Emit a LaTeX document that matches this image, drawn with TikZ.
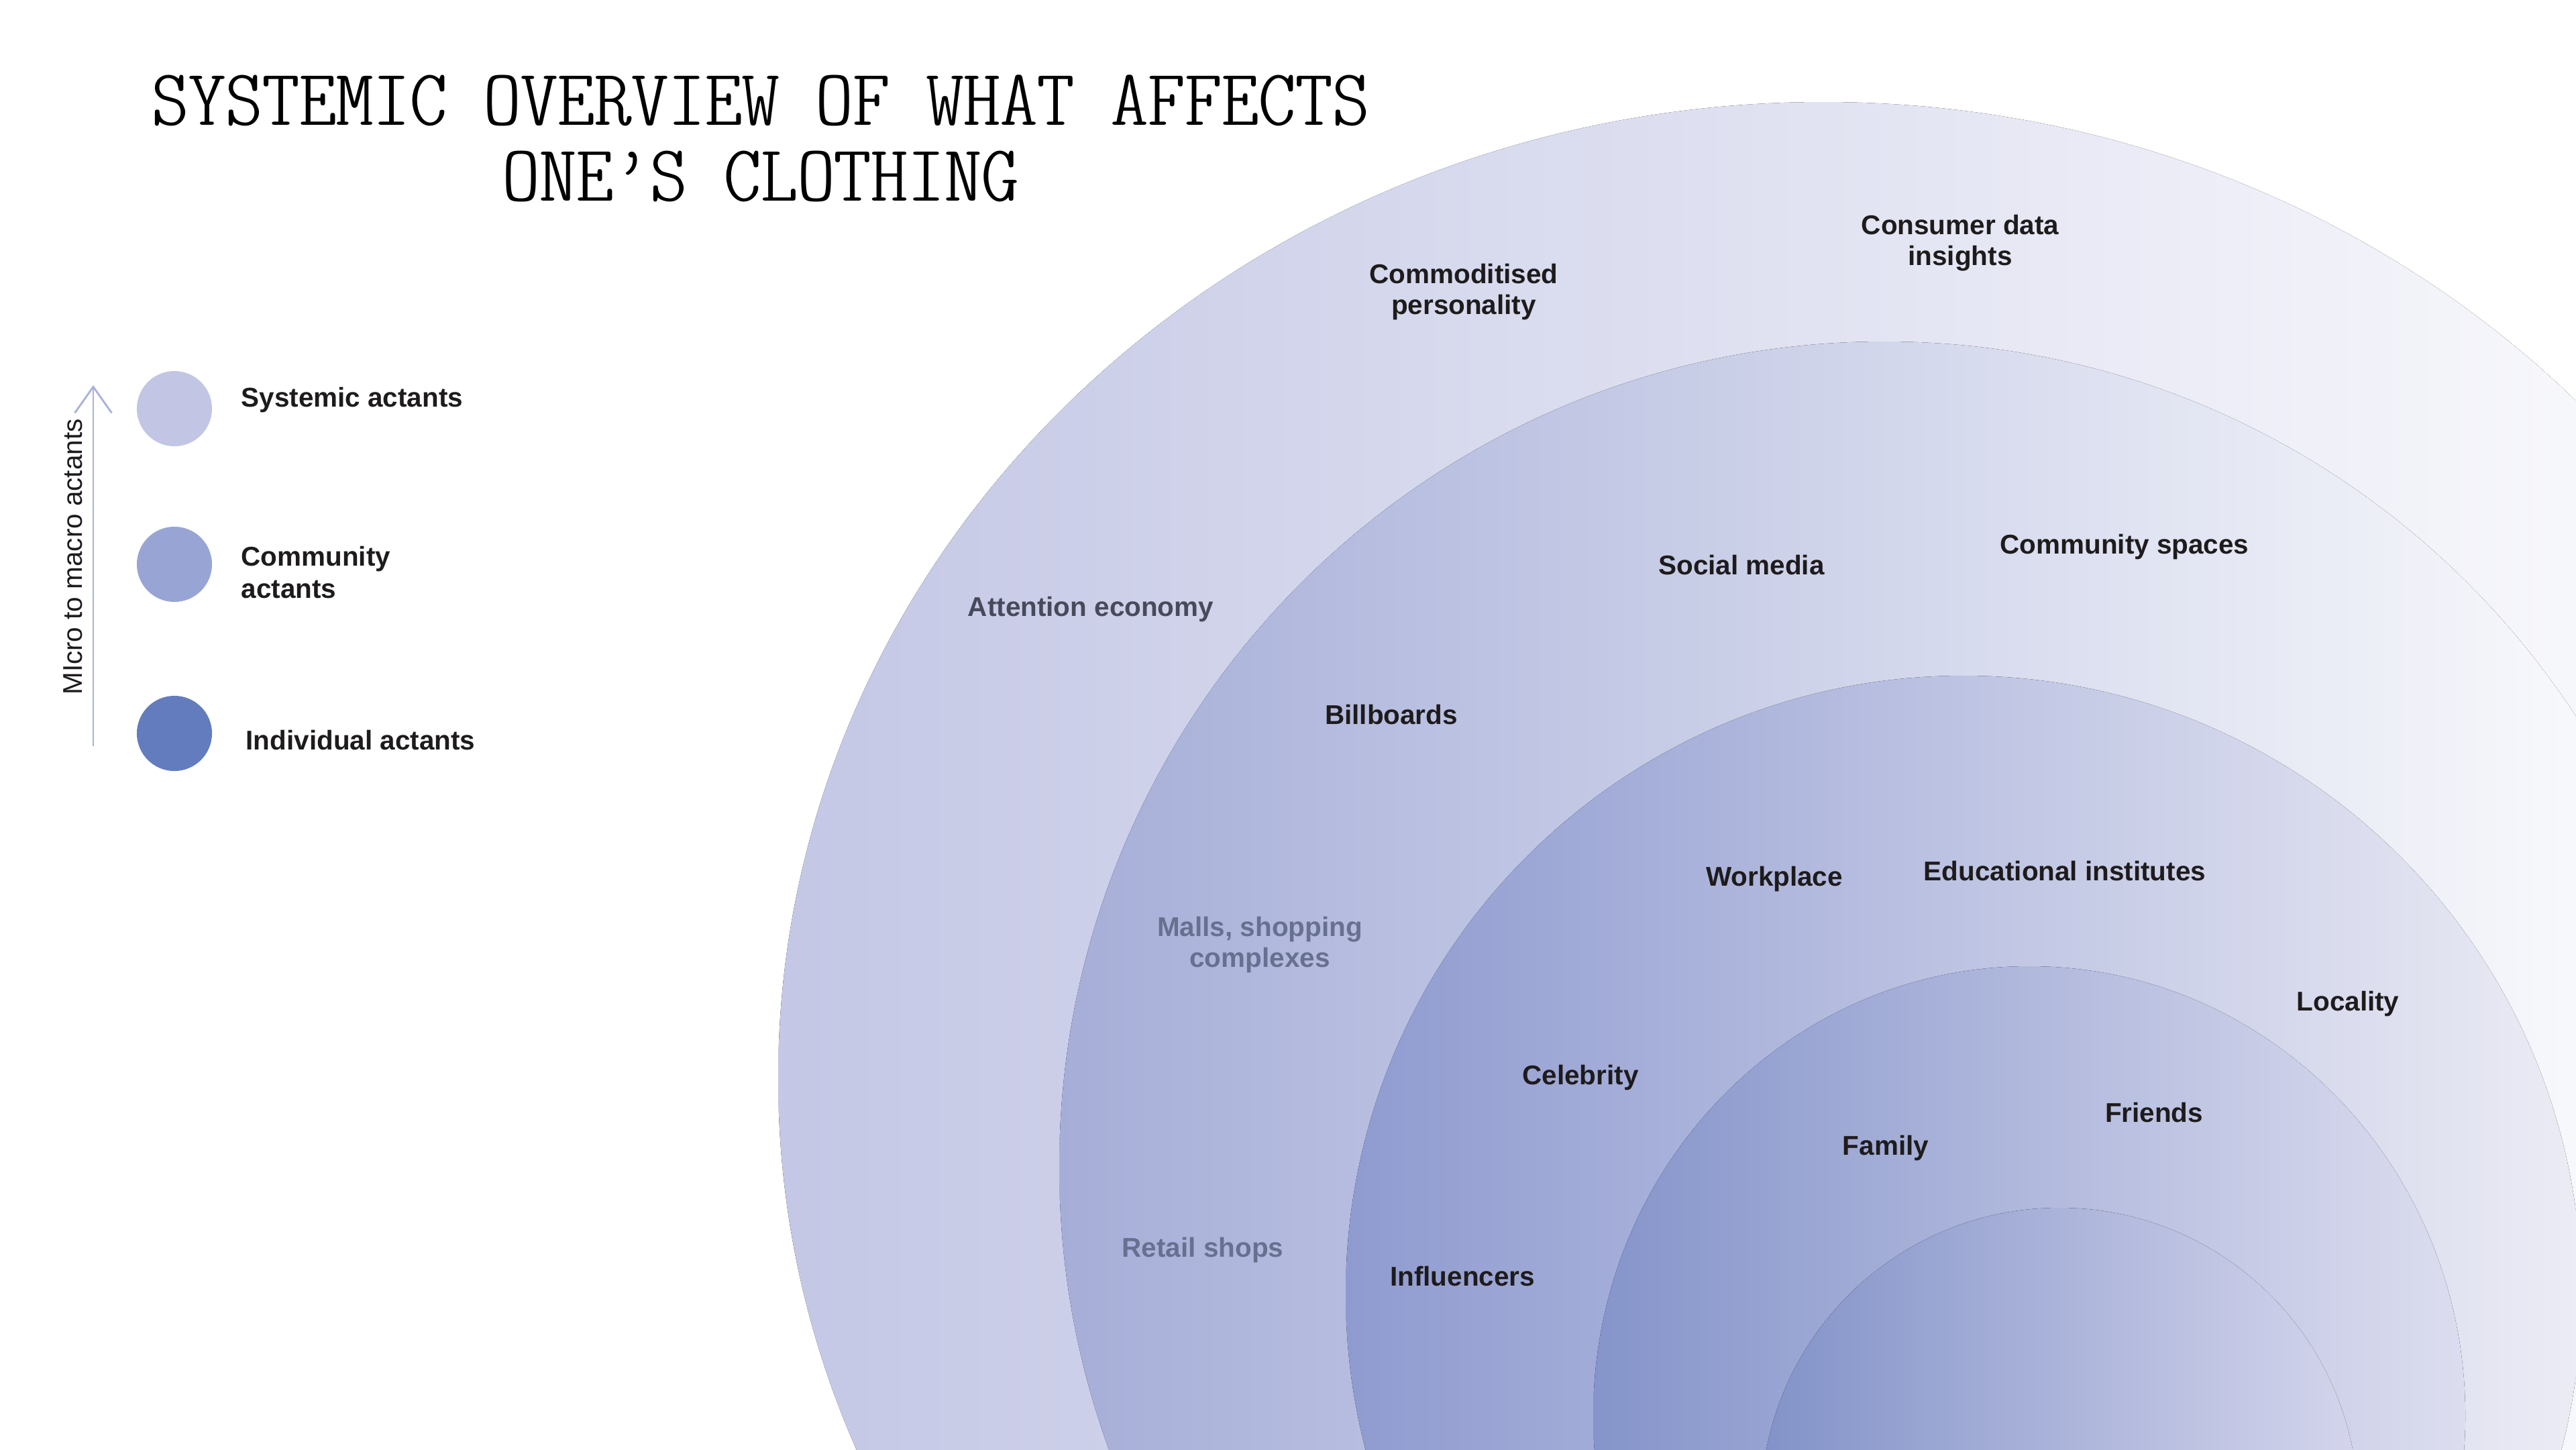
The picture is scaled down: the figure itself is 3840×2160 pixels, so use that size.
\documentclass[tikz,border=0pt]{standalone}
\usepackage{fontspec}
\setmainfont{Liberation Sans}
\usetikzlibrary{arrows.meta,positioning}
\definecolor{ink}{HTML}{1E1B1C}
\definecolor{slate}{HTML}{474A5A}
\definecolor{dusk}{HTML}{687090}
\definecolor{systemic}{HTML}{C2C6E4}
\definecolor{community}{HTML}{98A5D4}
\definecolor{individual}{HTML}{627CBE}
\definecolor{axisline}{HTML}{A9B1DC}
\definecolor{ringone}{HTML}{C4C7E5}
\definecolor{ringtwo}{HTML}{A6AED8}
\definecolor{ringthree}{HTML}{8F9BD0}
\definecolor{ringthreeend}{HTML}{ECECF5}
\definecolor{ringfour}{HTML}{8594CA}
\definecolor{ringfourend}{HTML}{DCDDEF}
\definecolor{ringfive}{HTML}{8292C8}
\definecolor{ringfiveend}{HTML}{D4D5EC}
\newcommand{\headtext}[1]{\scalebox{1.314}[1]{#1}}

\begin{document}
\begin{tikzpicture}[x=0.01cm, y=-0.01cm,
  actant/.style={font=\fontsize{11.5}{13.2}\selectfont\bfseries, text=ink, align=center, inner sep=0pt},
  faded/.style={actant, text=dusk},
  keytext/.style={font=\fontsize{11.5}{13.8}\selectfont\bfseries, text=ink, align=left, anchor=west, inner sep=0pt},
  keydot/.style={circle, minimum size=1.12cm, inner sep=0pt},
  headline/.style={font=\fontfamily{lmtt}\fontseries{lc}\fontsize{34}{40}\selectfont, text=black, anchor=base, inner sep=0pt}]
\useasboundingbox (0,0) rectangle (3840,2160);
\clip (0,0) rectangle (3840,2160);
\fill[white] (0,0) rectangle (3840,2160);

% Rings, outer to inner
\fill[left color=ringone, right color=white] (2718,1607) ellipse [x radius=1558, y radius=1455];
\fill[left color=ringtwo, right color=white] (2809,1739) circle [radius=1230];
\fill[left color=ringthree, right color=ringthreeend] (2927,1928) circle [radius=921];
\fill[left color=ringfour, right color=ringfourend] (3025,2110) ellipse [x radius=650, y radius=670];
\fill[left color=ringfive, right color=ringfiveend] (3070,2245) circle [radius=445];

% Title
\node[headline] (title1) at (1134,186) {\headtext{SYSTEMIC OVERVIEW OF WHAT AFFECTS}};
\node[headline] (title2) at (1134,299) {\headtext{ONE’S CLOTHING}};

% Legend
\coordinate (axisbot) at (139,1112);
\coordinate (axistop) at (139,574);
\draw[axisline, line width=0.8pt, -{Straight Barb[length=3.9mm, width=5.5mm]}] (axisbot) -- (axistop);
\node[rotate=90, font=\fontsize{11.5}{13.8}\selectfont, text=ink, inner sep=0pt] (axislabel) at (109,830) {MIcro to macro actants};
\node[keydot, fill=systemic] (sysdot) at (260,609) {};
\node[keydot, fill=community] (comdot) at (260,841) {};
\node[keydot, fill=individual] (inddot) at (260,1093) {};
\node[keytext] (systxt) at (359,596) {Systemic actants};
\node[keytext] (comtxt) at (359,853) {Community\\actants};
\node[keytext] (indtxt) at (366,1103) {Individual actants};

% Systemic ring
\node[actant] (commod) at (2182,435) {Commoditised\\personality};
\node[actant] (consumer) at (2922,362) {Consumer data\\insights};
\node[actant, text=slate] (attention) at (1626,908) {Attention economy};
% Community ring
\node[actant] (social) at (2596,842) {Social media};
\node[actant] (spaces) at (3167,815) {Community spaces};
\node[actant] (billboards) at (2074,1065) {Billboards};
\node[faded] (malls) at (1878,1408) {Malls, shopping\\complexes};
\node[faded] (retail) at (1793,1863) {Retail shops};
% Inner rings
\node[actant] (workplace) at (2645,1310) {Workplace};
\node[actant] (education) at (3078,1298) {Educational institutes};
\node[actant] (locality) at (3500,1496) {Locality};
\node[actant] (celebrity) at (2356,1606) {Celebrity};
\node[actant] (friends) at (3211,1658) {Friends};
\node[actant] (family) at (2811,1711) {Family};
\node[actant] (influencers) at (2180,1902) {Influencers};
\end{tikzpicture}
\end{document}
